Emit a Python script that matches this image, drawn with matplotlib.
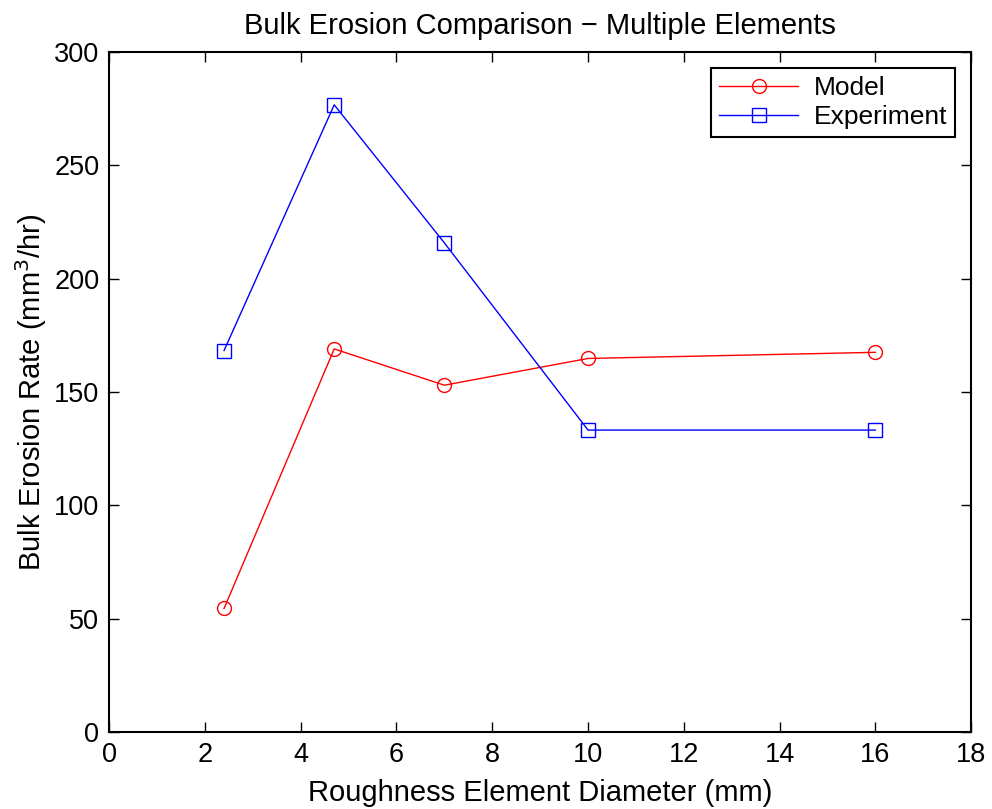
import matplotlib
matplotlib.use("Agg")
import matplotlib.pyplot as plt

diameter = [2.4, 4.7, 7.0, 10.0, 16.0]
model = [54.5, 169.0, 153.0, 164.8, 167.5]
experiment = [168.3, 276.7, 215.8, 133.2, 133.2]
xticks = [0, 2, 4, 6, 8, 10, 12, 14, 16, 18]
yticks = [0, 50, 100, 150, 200, 250, 300]

plt.rcParams['font.family'] = ['Liberation Sans', 'DejaVu Sans']

fig = plt.figure(figsize=(9.92, 8.09), dpi=100)
ax = fig.add_axes([0.110, 0.0952, 0.869, 0.8405])

ax.plot(diameter, model, color='red', marker='o', markersize=10, markerfacecolor='none',
        markeredgewidth=1.0, linewidth=1.0, label='Model')
ax.plot(diameter, experiment, color='blue', marker='s', markersize=10, markerfacecolor='none',
        markeredgewidth=1.0, linewidth=1.0, label='Experiment')

ax.set_xlim(0, 18)
ax.set_ylim(0, 300)
ax.set_xticks(xticks)
ax.set_yticks(yticks)
ax.tick_params(direction='in', length=7, width=1, labelsize=19.5, top=True, right=True,
               labeltop=False, labelright=False, pad=7)
for s in ax.spines.values():
    s.set_linewidth(1.5)

ax.set_xlabel('Roughness Element Diameter (mm)', fontsize=21, labelpad=8)
ax.set_ylabel('Bulk Erosion Rate (mm$^3$/hr)', fontsize=21, labelpad=4)
ax.set_title('Bulk Erosion Comparison \u2212 Multiple Elements', fontsize=21, pad=13)

leg = ax.legend(loc='upper right', fontsize=19, fancybox=False, framealpha=1, edgecolor='black',
                handlelength=3, borderaxespad=0.6, labelspacing=0.2, borderpad=0.3,
                handletextpad=0.6)
leg.get_frame().set_linewidth(1.5)

fig.savefig('out.png', dpi=100)
